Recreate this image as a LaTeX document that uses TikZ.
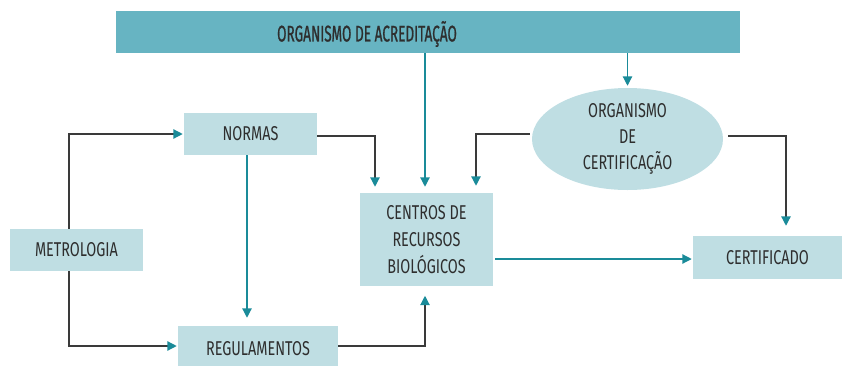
\documentclass[tikz,border=0pt]{standalone}
\usepackage{fontspec}
\setmainfont[FakeStretch=0.72]{Fira Sans}
\newfontfamily\titlefont[FakeStretch=0.6,FakeBold=0.8]{Fira Sans}
\usetikzlibrary{arrows.meta,shapes.geometric,calc}
\definecolor{barcol}{HTML}{67B4C2}
\definecolor{boxcol}{HTML}{BFDEE3}
\definecolor{tealc}{HTML}{1A8B99}
\definecolor{darkc}{HTML}{3A3A3A}
\definecolor{txtc}{HTML}{2E2E2E}
\def\u{0.75pt}
\tikzset{
  box/.style={fill=boxcol, draw=none, inner sep=0pt, align=center, text=txtc,
    font=\fontsize{15}{20}\selectfont},
  tip/.style={-{Triangle[length=7pt,width=7pt,color=tealc]}},
  tealline/.style={tip, draw=tealc, line width=0.9pt},
  darkline/.style={tip, draw=darkc, line width=0.9pt},
}
\begin{document}
\begin{tikzpicture}[x=0.75pt,y=-0.75pt]
\useasboundingbox (0,0) rectangle (846,365);
\begin{scope}
\clip (0,0) rectangle (846,365);
\node[fill=barcol, inner sep=0pt, minimum width=624*\u, minimum height=42*\u] (bar) at (428,32) {};
\node[text=txtc, font=\titlefont\fontsize{17}{19}\selectfont, inner sep=0pt] (bartitle) at (367,34) {ORGANISMO DE ACREDITAÇÃO};
\node[box, minimum width=133*\u, minimum height=42*\u] (normas) at (250.5,134) {NORMAS};
\node[box, minimum width=133*\u, minimum height=42*\u] (metro) at (76.5,250) {METROLOGIA};
\node[box, minimum width=160*\u, minimum height=46*\u] (regul) at (258,349) {REGULAMENTOS};
\node[box, minimum width=133*\u, minimum height=93*\u] (centros) at (426.5,239.5) {CENTROS DE\\RECURSOS\\BIOLÓGICOS};
\node[box, ellipse, minimum width=191*\u, minimum height=102*\u, font=\fontsize{15}{19.5}\selectfont] (ell) at (627.5,139) {ORGANISMO\\DE\\CERTIFICAÇÃO};
\node[box, minimum width=149*\u, minimum height=43*\u] (cert) at (767.5,257.5) {CERTIFICADO};

% connectors
\draw[darkline, shorten >=1*\u] ([xshift=-7.5*\u]metro.north) |- (normas.west);
\draw[darkline, shorten >=1*\u] ([xshift=-7.5*\u]metro.south) |- ([yshift=3*\u]regul.west);
\draw[darkline, shorten >=6*\u] ([yshift=-2*\u]normas.east) -| ([xshift=-51.5*\u]centros.north);
\draw[tealline, shorten >=8*\u] ([xshift=-3.5*\u]normas.south) -- ([xshift=-3.5*\u]normas.south |- regul.north);
\draw[darkline, shorten >=9.5*\u] ([yshift=3*\u]regul.east) -| ([xshift=-1.5*\u]centros.south);
\draw[tealline, shorten >=6*\u] ([xshift=-1.5*\u]centros.north |- bar.south) -- ([xshift=-1.5*\u]centros.north);
\draw[tealline, shorten >=2*\u] (ell.north |- bar.south) -- (ell.north);
\draw[darkline, shorten >=7*\u] ([xshift=-2*\u,yshift=5*\u]ell.west) -| ([xshift=49.5*\u]centros.north);
\draw[darkline, shorten >=10*\u] ([xshift=5*\u,yshift=3*\u]ell.east) -| ([xshift=18.5*\u]cert.north);
\draw[tealline, shorten >=3*\u] ([xshift=2*\u,yshift=-19.5*\u]centros.east) -- ([xshift=2*\u,yshift=-19.5*\u]centros.east -| cert.west);
\end{scope}
\end{tikzpicture}
\end{document}
